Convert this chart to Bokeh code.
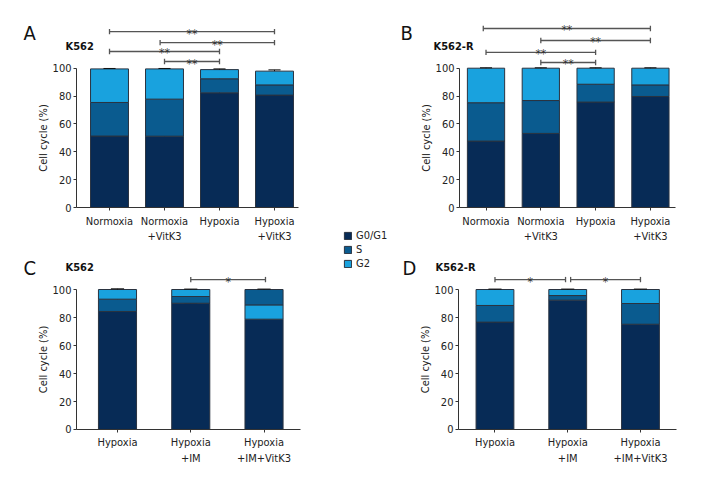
from bokeh.plotting import figure
from bokeh.layouts import row, column
from bokeh.models import Label, Legend, LegendItem, FixedTicker, Range1d
from bokeh.embed import file_html
from bokeh.resources import INLINE
from bokeh.core.properties import value

FONT = "DejaVu Sans Condensed"
COL_G0 = "#072b56"
COL_S = "#0a5b8f"
COL_G2 = "#19a2de"

# ---------------- data ----------------
A_groups = ["Normoxia", "Normoxia\n+VitK3", "Hypoxia", "Hypoxia\n+VitK3"]
A_g0 = [51.3, 51.2, 82.3, 80.7]
A_s = [24.1, 26.6, 10.1, 7.3]
A_g2 = [24.1, 21.7, 6.6, 9.9]
A_g0_err = [1.7, 1.8, 2.2, 0.7]
A_s_err = [2.6, 0.7, 1.6, 1.7]
A_g2_err = [0.3, 0.3, 0.5, 0.9]
A_brackets = [(1, 4, 126.3, "**"), (1.92, 4, 118.4, "**"), (1, 3, 112.0, "**"), (2, 3, 104.8, "**")]

B_groups = ["Normoxia", "Normoxia\n+VitK3", "Hypoxia", "Hypoxia\n+VitK3"]
B_g0 = [47.7, 53.2, 75.7, 79.7]
B_s = [27.5, 23.6, 12.8, 8.3]
B_g2 = [24.8, 23.2, 11.5, 12.0]
B_g0_err = [1.7, 2.2, 4.5, 2.4]
B_s_err = [2.6, 0.3, 3.4, 1.5]
B_g2_err = [0.3, 0.3, 0.3, 0.3]
B_brackets = [(0.95, 4, 128.5, "**"), (2, 4, 119.9, "**"), (1, 3, 111.3, "**"), (2, 3, 104.1, "**")]

C_groups = ["Hypoxia", "Hypoxia\n+IM", "Hypoxia\n+IM+VitK3"]
C_g0 = [84.3, 90.2, 78.8]
C_mid = [8.8, 4.8, 10.2]
C_top = [6.9, 5.0, 11.0]
C_g0_err = [1.2, 0.3, 1.0]
C_mid_err = [1.9, 2.1, 1.5]
C_top_err = [0.5, 0.3, 0.3]
C_mid_colors = [COL_S, COL_S, COL_G2]
C_top_colors = [COL_G2, COL_G2, COL_S]
C_brackets = [(2, 3.02, 107.1, "*")]

D_groups = ["Hypoxia", "Hypoxia\n+IM", "Hypoxia\n+IM+VitK3"]
D_g0 = [76.7, 92.4, 75.2]
D_s = [11.9, 3.3, 14.8]
D_g2 = [11.4, 4.3, 10.0]
D_g0_err = [3.5, 1.6, 2.2]
D_s_err = [2.8, 0.7, 3.1]
D_g2_err = [0.3, 0.3, 0.3]
D_brackets = [(1, 1.97, 107.1, "*"), (2.04, 3.0, 107.1, "*")]

legend_labels = ["G0/G1", "S", "G2"]


def make_panel(width, height, xr, yr, axis_x, x_end, groups, segs, errs, colors,
               bar_w, cap_w, brackets, letter, letter_pos, title, title_pos, tick_h):
    p = figure(width=width, height=height, output_backend="svg", toolbar_location=None,
               x_range=Range1d(*xr), y_range=Range1d(*yr), min_border=0)
    p.outline_line_color = None
    p.grid.visible = False
    n = len(groups)
    xs = list(range(1, n + 1))
    bottom = [0.0] * n
    for seg, err, col in zip(segs, errs, colors):
        top = [b + v for b, v in zip(bottom, seg)]
        p.vbar(x=xs, bottom=bottom, top=top, width=bar_w, fill_color=col,
               line_color="#2a3340", line_width=1)
        hi = [t + e for t, e in zip(top, err)]
        p.segment(x0=xs, y0=top, x1=xs, y1=hi, line_color="#111111", line_width=1)
        p.segment(x0=[x - cap_w for x in xs], y0=hi, x1=[x + cap_w for x in xs], y1=hi,
                  line_color="#111111", line_width=1)
        bottom = top
    for (xa, xb, y, star) in brackets:
        p.segment(x0=[xa], y0=[y], x1=[xb], y1=[y], line_color="#555555", line_width=1.3)
        p.segment(x0=[xa, xb], y0=[y - tick_h] * 2, x1=[xa, xb], y1=[y + tick_h] * 2,
                  line_color="#555555", line_width=1.3)
        p.text(x=[(xa + xb) / 2], y=[y], text=[star], text_align="center",
               text_baseline="alphabetic", y_offset=2, text_color="#333333",
               text_font=value(FONT), text_font_size="12px")
    # axes, pinned at data positions inside the frame
    p.yaxis.fixed_location = axis_x
    p.yaxis.bounds = (0, 100)
    p.yaxis.ticker = FixedTicker(ticks=[0, 20, 40, 60, 80, 100])
    p.yaxis.minor_tick_line_color = None
    p.yaxis.major_tick_out = 3
    p.yaxis.major_tick_in = 0
    p.yaxis.major_label_standoff = 2
    p.yaxis.axis_label = "Cell cycle (%)"
    p.yaxis.axis_label_text_font_style = "normal"
    p.yaxis.axis_label_standoff = 0
    p.xaxis.fixed_location = 0
    p.xaxis.bounds = (axis_x, x_end)
    p.xaxis.ticker = FixedTicker(ticks=xs)
    p.xaxis.major_label_overrides = {x: g for x, g in zip(xs, groups)}
    p.xaxis.minor_tick_line_color = None
    p.xaxis.major_tick_out = 3
    p.xaxis.major_tick_in = 0
    p.xaxis.major_label_standoff = 4
    for ax in (p.xaxis, p.yaxis):
        ax.axis_line_color = "#333333"
        ax.major_tick_line_color = "#333333"
        ax.major_label_text_font = FONT
        ax.major_label_text_font_size = "11px"
        ax.major_label_text_color = "#222222"
        ax.axis_label_text_font = FONT
        ax.axis_label_text_font_size = "11px"
        ax.axis_label_text_color = "#222222"
    p.add_layout(Label(x=letter_pos[0], y=letter_pos[1], x_units="screen", y_units="screen",
                       text=letter, text_font=FONT, text_font_size="20px",
                       text_baseline="middle", text_color="#111111"))
    p.add_layout(Label(x=title_pos[0], y=title_pos[1], x_units="screen", y_units="screen",
                       text=title, text_font=FONT, text_font_size="11px",
                       text_font_style="bold", text_baseline="middle", text_color="#111111"))
    return p


std_colors = [COL_G0, COL_S, COL_G2]

pA = make_panel(340, 248, (-0.982, 5.2), (-29.43, 148.6), 0.4, 4.436, A_groups,
                [A_g0, A_s, A_g2], [A_g0_err, A_s_err, A_g2_err], std_colors,
                0.69, 0.11, A_brackets, "A", (23, 216), "K562", (65, 202), 1.9)
pB = make_panel(330, 248, (-0.743, 5.279), (-29.43, 148.6), 0.516, 4.458, B_groups,
                [B_g0, B_s, B_g2], [B_g0_err, B_s_err, B_g2_err], std_colors,
                0.68, 0.11, B_brackets, "B", (10, 216), "K562-R", (43, 202), 1.9)
pC = make_panel(340, 232, (-0.597, 4.044), (-36.43, 129.29), 0.44, 3.498, C_groups,
                [C_g0, C_mid, C_top], [C_g0_err, C_mid_err, C_top_err],
                [COL_G0, C_mid_colors, C_top_colors],
                0.52, 0.09, C_brackets, "C", (23, 213), "K562", (65, 213), 1.9)
pD = make_panel(330, 232, (-0.436, 4.1), (-36.43, 129.29), 0.498, 3.495, D_groups,
                [D_g0, D_s, D_g2], [D_g0_err, D_s_err, D_g2_err], std_colors,
                0.52, 0.09, D_brackets, "D", (12, 213), "K562-R", (45, 213), 1.9)

lf = figure(width=50, height=480, output_backend="svg", toolbar_location=None,
            x_axis_location=None, y_axis_location=None, min_border=0,
            x_range=(0, 1), y_range=(0, 1))
lf.outline_line_color = None
lf.grid.visible = False
rends = [lf.rect(x=[5], y=[5], width=1, height=1, fill_color=c, line_color="#2a3340")
         for c in std_colors]
leg = Legend(items=[LegendItem(label=l, renderers=[r]) for l, r in zip(legend_labels, rends)],
             location=(3, 210), glyph_width=9, glyph_height=9, label_height=14,
             label_width=20, spacing=0, padding=0, margin=0, label_standoff=4,
             border_line_color=None, background_fill_alpha=0,
             label_text_font=FONT, label_text_font_size="11px", label_text_color="#222222")
lf.add_layout(leg)

layout = row(column(pA, pC), lf, column(pB, pD))
open("out.html", "w").write(file_html(layout, INLINE))
